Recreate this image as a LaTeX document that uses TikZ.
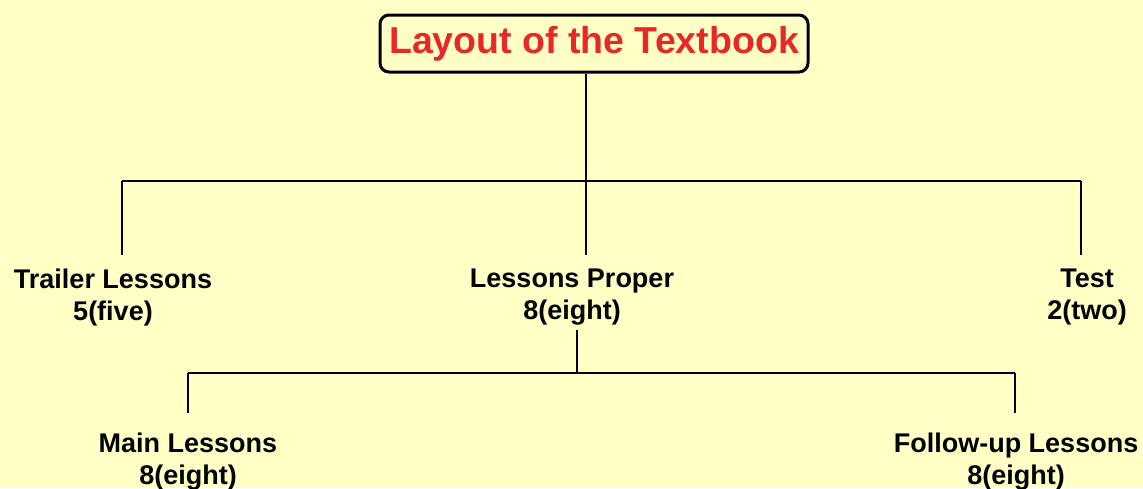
\documentclass[tikz,border=0pt]{standalone}
\usepackage{fontspec}
\setmainfont{Liberation Sans}
\definecolor{bgy}{RGB}{255,255,198}
\definecolor{titred}{RGB}{232,40,40}
\begin{document}
\begin{tikzpicture}[x=1pt,y=-1pt,
  lbl/.style={font=\bfseries\fontsize{27}{32}\selectfont,align=center,inner sep=0pt,anchor=north},
  conn/.style={line width=1.6pt,black}]
\fill[bgy] (0,0) rectangle (1143,488);
\useasboundingbox (0,0) rectangle (1143,488);
% title
\node[draw,line width=3pt,rounded corners=9pt,fill=bgy,minimum width=428pt,minimum height=57pt,
  text=titred,font=\bfseries\fontsize{37.5}{40}\selectfont,inner sep=0pt] (title) at (594,43.5) {Layout of the Textbook};
% labels
\node[lbl] (tl) at (113,269) {Trailer Lessons\\5(five)};
\node[lbl] (lp) at (572,269) {Lessons Proper\\8(eight)};
\node[lbl] (te) at (1087,269) {Test\\2(two)};
\node[lbl] (ml) at (188,433) {Main Lessons\\8(eight)};
\node[lbl] (fl) at (1016,433) {Follow-up Lessons\\8(eight)};
% junctions
\coordinate (j0) at (586,181);
\coordinate (ja) at (122,181);
\coordinate (jc) at (1081,181);
\coordinate (ta) at (122,255);
\coordinate (tb) at (586,255);
\coordinate (tc) at (1081,255);
\coordinate (k0) at (577,373);
\coordinate (ka) at (188,373);
\coordinate (kb) at (1015,373);
\coordinate (ma) at (188,413);
\coordinate (mb) at (1015,413);
\draw[conn] (title.south -| j0) -- (j0);
\draw[conn] (ja) -- (jc);
\draw[conn] (ja) -- (ta);
\draw[conn] (j0) -- (tb);
\draw[conn] (jc) -- (tc);
\draw[conn] (lp.south -| k0) ++(0,4) -- (k0);
\draw[conn] (ka) -- (kb);
\draw[conn] (ka) -- (ma);
\draw[conn] (kb) -- (mb);
\end{tikzpicture}
\end{document}
